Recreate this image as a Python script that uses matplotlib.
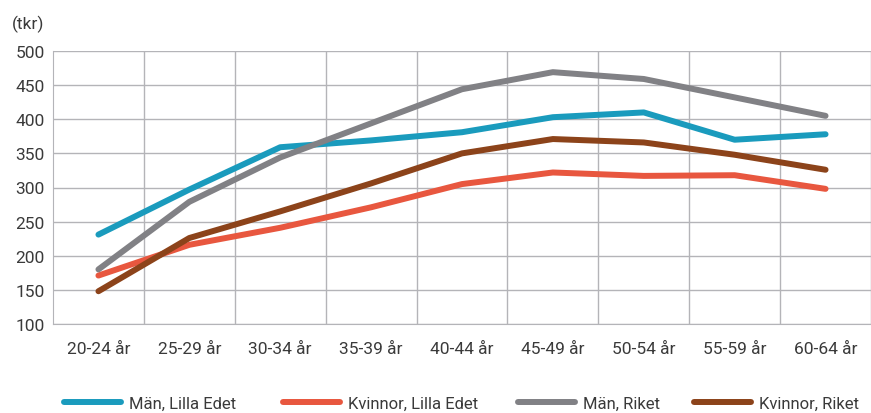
import matplotlib.pyplot as plt

plt.rcParams["font.family"] = ["Roboto", "DejaVu Sans"]

categories = ["20-24 år", "25-29 år", "30-34 år", "35-39 år", "40-44 år",
              "45-49 år", "50-54 år", "55-59 år", "60-64 år"]
man_lilla_edet = [231, 297, 359, 369, 381, 403, 410, 370, 378]
kvinnor_lilla_edet = [171, 216, 241, 271, 305, 322, 317, 318, 298]
man_riket = [180, 279, 344, 394, 444, 469, 459, 432, 405]
kvinnor_riket = [148, 226, 265, 306, 350, 371, 366, 348, 326]

series = [
    ("Män, Lilla Edet", man_lilla_edet, "#1A9BBD"),
    ("Kvinnor, Lilla Edet", kvinnor_lilla_edet, "#E8573F"),
    ("Män, Riket", man_riket, "#818185"),
    ("Kvinnor, Riket", kvinnor_riket, "#8C431A"),
]
text_color = "#3A3A3A"

fig = plt.figure(figsize=(8.71, 4.14), dpi=100)
ax = fig.add_axes([53 / 871, 1 - 325 / 414, 1 - 53 / 871, (325 - 52) / 414])

x = range(len(categories))
lines = []
for label, vals, color in series:
    ln, = ax.plot(x, vals, color=color, lw=4.3, solid_capstyle="round",
                  solid_joinstyle="round", label=label)
    lines.append(ln)

ax.set_xlim(-0.5, len(categories) - 0.5)
ax.set_ylim(100, 500)
ax.set_yticks(range(100, 501, 50))
ax.set_xticks(list(x))
ax.set_xticklabels(categories)
ax.set_xticks([i + 0.5 for i in x], minor=True)
ax.grid(True, which="major", axis="y", color="#B4B4B8", lw=1)
ax.grid(True, which="minor", axis="x", color="#B4B4B8", lw=1)
ax.tick_params(which="both", length=0, labelsize=12.5, colors=text_color)
ax.tick_params(axis="x", pad=12)
ax.tick_params(axis="y", pad=6)
for s in ["top", "right"]:
    ax.spines[s].set_visible(False)
for s in ["left", "bottom"]:
    ax.spines[s].set_color("#B4B4B8")
ax.set_axisbelow(True)

fig.text(12 / 871, 1 - 24 / 414, "(tkr)", fontsize=12.5, color=text_color, va="center")

# one legend per entry, spread across the bottom like the original
legend_x = [64, 283, 518, 694]
for ln, lx in zip(lines, legend_x):
    leg = fig.legend(handles=[ln], loc="center left",
                     bbox_to_anchor=(lx / 871, 1 - 404 / 414),
                     frameon=False, fontsize=12, handlelength=3.4,
                     handletextpad=0.5, borderpad=0, borderaxespad=0,
                     labelcolor=text_color)

fig.savefig("out.png", dpi=100)
